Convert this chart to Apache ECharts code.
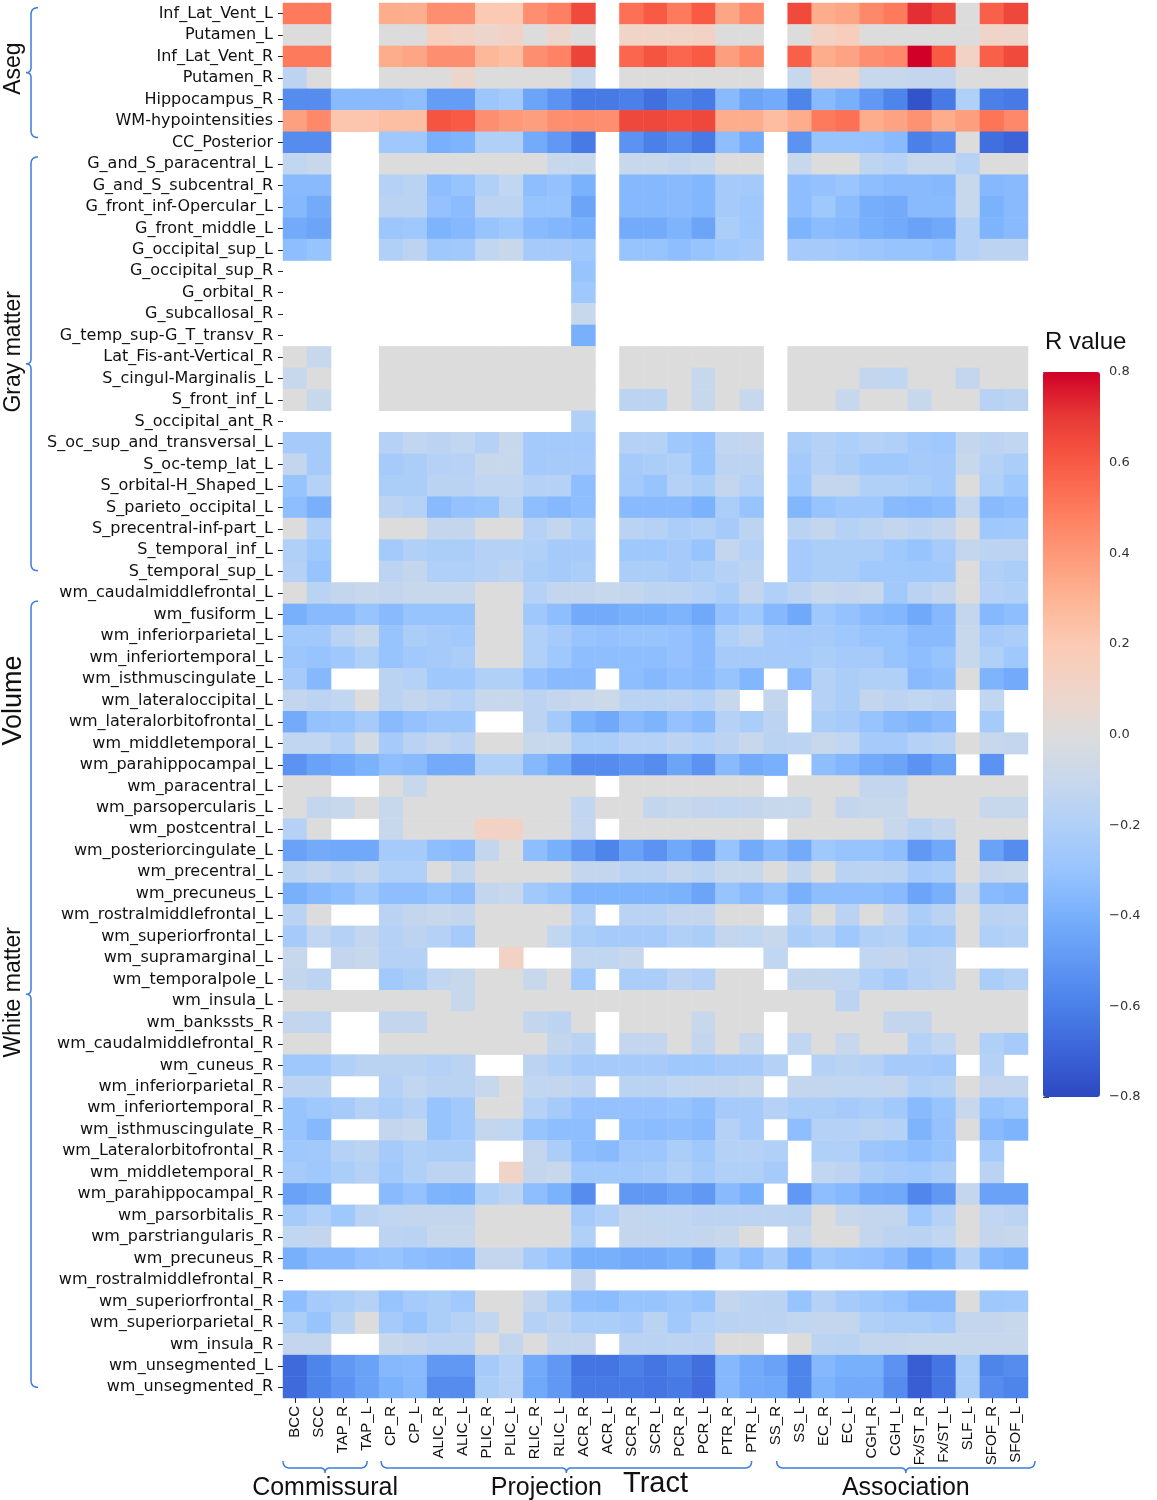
<!DOCTYPE html>
<html>
<head>
<meta charset="utf-8">
<script src="https://cdn.jsdelivr.net/npm/echarts@6/dist/echarts.min.js"></script>
<style>
  html, body { margin: 0; padding: 0; background: #fff; }
  #main { width: 1157px; height: 1500px; }
</style>
</head>
<body>
<div id="main"></div>
<script>
const _ = null;

// tracts (x axis)
const tractCols = ['BCC', 'SCC', 'TAP_R', 'TAP_L', 'CP_R', 'CP_L', 'ALIC_R', 'ALIC_L', 'PLIC_R', 'PLIC_L',
  'RLIC_R', 'RLIC_L', 'ACR_R', 'ACR_L', 'SCR_R', 'SCR_L', 'PCR_R', 'PCR_L', 'PTR_R', 'PTR_L',
  'SS_R', 'SS_L', 'EC_R', 'EC_L', 'CGH_R', 'CGH_L', 'Fx/ST_R', 'Fx/ST_L', 'SLF_L', 'SFOF_R', 'SFOF_L'];

// tract groups: [name, first col, last col]
const tractGroups = [['Commissural', 0, 3], ['Projection', 4, 19], ['Association', 20, 30]];

// region rows
const asegRows = ['Inf_Lat_Vent_L', 'Putamen_L', 'Inf_Lat_Vent_R', 'Putamen_R', 'Hippocampus_R',
  'WM-hypointensities', 'CC_Posterior'];
const grayRows = ['G_and_S_paracentral_L', 'G_and_S_subcentral_R', 'G_front_inf-Opercular_L', 'G_front_middle_L',
  'G_occipital_sup_L', 'G_occipital_sup_R', 'G_orbital_R', 'G_subcallosal_R', 'G_temp_sup-G_T_transv_R',
  'Lat_Fis-ant-Vertical_R', 'S_cingul-Marginalis_L', 'S_front_inf_L', 'S_occipital_ant_R',
  'S_oc_sup_and_transversal_L', 'S_oc-temp_lat_L', 'S_orbital-H_Shaped_L', 'S_parieto_occipital_L',
  'S_precentral-inf-part_L', 'S_temporal_inf_L', 'S_temporal_sup_L'];
const whiteRows = ['wm_caudalmiddlefrontal_L', 'wm_fusiform_L', 'wm_inferiorparietal_L', 'wm_inferiortemporal_L',
  'wm_isthmuscingulate_L', 'wm_lateraloccipital_L', 'wm_lateralorbitofrontal_L', 'wm_middletemporal_L',
  'wm_parahippocampal_L', 'wm_paracentral_L', 'wm_parsopercularis_L', 'wm_postcentral_L',
  'wm_posteriorcingulate_L', 'wm_precentral_L', 'wm_precuneus_L', 'wm_rostralmiddlefrontal_L',
  'wm_superiorfrontal_L', 'wm_supramarginal_L', 'wm_temporalpole_L', 'wm_insula_L', 'wm_bankssts_R',
  'wm_caudalmiddlefrontal_R', 'wm_cuneus_R', 'wm_inferiorparietal_R', 'wm_inferiortemporal_R',
  'wm_isthmuscingulate_R', 'wm_Lateralorbitofrontal_R', 'wm_middletemporal_R', 'wm_parahippocampal_R',
  'wm_parsorbitalis_R', 'wm_parstriangularis_R', 'wm_precuneus_R', 'wm_rostralmiddlefrontal_R',
  'wm_superiorfrontal_R', 'wm_superiorparietal_R', 'wm_insula_R', 'wm_unsegmented_L', 'wm_unsegmented_R'];

// R values x100, null = not significant (blank)
const asegValues = [
  [50,50,_,_,33,32,43,43,20,20,43,48,65,_,53,60,50,60,35,45,_,65,33,35,45,50,72,66,0,58,66],
  [0,0,_,_,0,0,15,12,8,12,0,8,0,_,10,10,10,12,0,0,_,0,12,16,0,0,0,0,0,10,8],
  [50,50,_,_,33,35,43,43,28,25,43,47,67,_,56,62,56,60,38,45,_,58,33,36,43,45,80,60,12,58,65],
  [-15,0,_,_,0,0,0,8,0,0,0,0,-10,_,0,0,0,0,0,0,_,-10,10,10,-10,-10,-12,-12,0,0,0],
  [-55,-55,-35,-35,-35,-33,-48,-48,-28,-25,-45,-52,-62,-62,-60,-66,-58,-62,-35,-45,-42,-58,-35,-40,-50,-58,-76,-62,-20,-60,-62],
  [37,45,22,22,25,25,62,60,43,40,38,43,44,43,66,66,64,66,33,33,26,33,50,53,33,36,42,33,38,52,45],
  [-55,-55,_,_,-27,-27,-40,-38,-20,-20,-42,-50,-62,_,-52,-60,-55,-62,-33,-42,_,-52,-30,-30,-31,-35,-60,-55,0,-66,-70]
];
const grayValues = [
  [-13,-10,_,_,0,0,0,0,0,0,0,-10,-10,_,-10,-10,-12,-10,0,0,_,-10,0,0,-14,-17,-10,-10,-17,0,0],
  [-35,-35,_,_,-18,-16,-33,-30,-20,-13,-33,-31,-39,_,-36,-36,-35,-37,-24,-25,_,-33,-31,-29,-33,-35,-35,-36,-10,-36,-35],
  [-36,-42,_,_,-16,-16,-31,-34,-15,-15,-30,-30,-45,_,-36,-36,-35,-37,-24,-27,_,-33,-27,-34,-41,-42,-35,-35,-10,-39,-35],
  [-42,-45,_,_,-28,-27,-38,-36,-30,-27,-35,-37,-40,_,-42,-42,-38,-45,-22,-27,_,-38,-34,-36,-40,-42,-46,-43,-18,-38,-35],
  [-33,-30,_,_,-20,-15,-27,-26,-13,-10,-24,-24,-27,_,-30,-30,-33,-30,-26,-24,_,-24,-24,-26,-28,-30,-30,-32,-18,-15,-15],
  [_,_,_,_,_,_,_,_,_,_,_,_,-30,_,_,_,_,_,_,_,_,_,_,_,_,_,_,_,_,_,_],
  [_,_,_,_,_,_,_,_,_,_,_,_,-27,_,_,_,_,_,_,_,_,_,_,_,_,_,_,_,_,_,_],
  [_,_,_,_,_,_,_,_,_,_,_,_,-10,_,_,_,_,_,_,_,_,_,_,_,_,_,_,_,_,_,_],
  [_,_,_,_,_,_,_,_,_,_,_,_,-40,_,_,_,_,_,_,_,_,_,_,_,_,_,_,_,_,_,_],
  [0,-10,_,_,0,0,0,0,0,0,0,0,0,_,0,0,0,0,0,0,_,0,0,0,0,0,0,0,0,0,0],
  [-10,0,_,_,0,0,0,0,0,0,0,0,0,_,0,0,0,-10,0,0,_,0,0,0,-12,-13,0,0,-12,0,0],
  [0,-10,_,_,0,0,0,0,0,0,0,0,0,_,-15,-15,0,-10,0,-10,_,0,0,-10,0,0,-10,0,0,-17,-15],
  [_,_,_,_,_,_,_,_,_,_,_,_,-20,_,_,_,_,_,_,_,_,_,_,_,_,_,_,_,_,_,_],
  [-24,-24,_,_,-18,-13,-15,-13,-18,-10,-25,-25,-25,_,-18,-18,-27,-30,-13,-12,_,-22,-18,-21,-18,-20,-25,-27,-12,-15,-13],
  [-12,-24,_,_,-24,-22,-18,-17,-10,-10,-25,-24,-24,_,-24,-22,-20,-30,-15,-15,_,-25,-18,-22,-27,-27,-24,-25,-10,-18,-22],
  [-30,-18,_,_,-22,-22,-16,-16,-13,-13,-18,-18,-33,_,-25,-30,-18,-22,-12,-18,_,-27,-12,-12,-20,-20,-22,-25,0,-20,-27],
  [-33,-40,_,_,-15,-18,-35,-31,-30,-16,-33,-36,-33,_,-35,-35,-35,-39,-22,-30,_,-37,-30,-27,-27,-35,-36,-34,-12,-35,-33],
  [0,-20,_,_,0,0,-12,-12,0,0,-18,-12,-20,_,-16,-18,-22,-20,-24,-15,_,-16,-12,-18,-15,-12,-15,-12,0,-27,-26],
  [-20,-27,_,_,-25,-20,-22,-22,-18,-18,-20,-24,-24,_,-27,-27,-24,-30,-12,-18,_,-24,-22,-22,-22,-27,-30,-24,-12,-15,-15],
  [-18,-30,_,_,-15,-12,-20,-20,-18,-15,-22,-24,-22,_,-22,-22,-24,-22,-18,-15,_,-24,-22,-22,-26,-26,-27,-26,0,-20,-22]
];
const whiteValues = [
  [0,-16,-12,-10,-12,-10,-10,-10,0,0,-18,-12,-12,-10,-12,-15,-15,-18,-22,-12,-20,-15,-10,-12,-10,-26,-16,-12,0,-18,-20],
  [-40,-35,-35,-30,-35,-30,-30,-30,0,0,-27,-33,-42,-42,-40,-40,-38,-43,-31,-27,-36,-43,-27,-31,-35,-37,-43,-36,-12,-36,-33],
  [-26,-26,-16,-10,-30,-22,-24,-26,0,0,-20,-24,-30,-31,-30,-30,-31,-35,-20,-15,-24,-25,-24,-27,-30,-30,-35,-35,-10,-24,-22],
  [-28,-30,-27,-20,-30,-26,-24,-22,0,0,-20,-27,-33,-33,-33,-33,-31,-35,-24,-24,-24,-24,-22,-24,-24,-30,-33,-30,-10,-20,-27],
  [-24,-36,_,_,-16,-18,-27,-27,-20,-20,-31,-35,-35,_,-33,-36,-33,-35,-30,-37,_,-35,-18,-22,-20,-20,-35,-33,0,-38,-42],
  [-12,-15,-13,0,-16,-12,-15,-18,-10,-10,-15,-12,-10,-8,-16,-16,-15,-18,-10,_,-12,_,-18,-22,-12,-15,-13,-15,_,-13,_],
  [-42,-31,-30,-24,-35,-31,-28,-28,_,_,-15,-25,-39,-43,-35,-38,-31,-35,-18,-22,-15,_,-22,-24,-30,-35,-38,-35,_,-24,_],
  [-13,-13,-18,-5,-24,-16,-12,-16,0,0,-10,-10,-22,-22,-18,-18,-15,-18,-15,-10,-16,-15,-10,-13,-24,-24,-18,-16,0,-10,-12],
  [-52,-46,-43,-39,-33,-35,-42,-42,-20,-20,-36,-43,-55,-55,-52,-55,-45,-52,-35,-42,-40,_,-33,-37,-42,-45,-52,-46,_,-52,_],
  [0,0,_,_,0,-10,0,0,0,0,0,0,0,_,0,0,0,0,0,0,_,0,0,0,-12,-12,0,0,0,0,0],
  [0,-12,-10,0,-10,0,0,0,0,0,0,0,-13,0,0,-12,-10,-12,-13,-12,-10,-10,0,-12,-10,-10,0,0,0,-10,-10],
  [-18,0,_,_,-10,0,0,0,12,12,0,0,-12,_,0,0,0,0,0,0,_,0,0,0,0,-10,-16,-12,0,0,0],
  [-46,-42,-43,-43,-24,-24,-33,-35,-12,0,-33,-40,-50,-58,-46,-52,-43,-50,-30,-42,-35,-42,-27,-30,-30,-33,-50,-43,0,-46,-55],
  [-16,-12,-16,-12,-20,-20,0,-12,0,0,0,0,-12,-12,-16,-16,-12,-15,-10,-10,0,-12,0,-16,-15,-16,-24,-22,0,-12,-10],
  [-40,-36,-33,-27,-33,-33,-30,-33,-12,-10,-26,-30,-38,-38,-38,-38,-39,-45,-30,-35,-30,-40,-33,-33,-33,-35,-45,-40,-12,-35,-37],
  [-16,0,_,_,-16,-12,-10,-12,0,0,0,0,-18,_,-16,-16,-12,-12,0,0,_,-16,0,-16,0,-12,-22,-16,0,-16,-15],
  [-24,-13,-18,-12,-18,-15,-18,-24,0,0,0,-13,-22,-24,-24,-24,-20,-22,-12,-13,-10,-22,-18,-27,-20,-18,-27,-26,0,-20,-18],
  [-10,_,-12,-10,-18,-18,_,_,_,12,_,_,-13,-13,-10,_,_,_,_,_,-13,_,_,_,-13,-12,-16,-15,_,_,_],
  [-12,-15,_,_,-26,-22,-13,-10,0,0,-10,0,-26,_,-22,-22,-15,-18,0,0,_,-12,-12,-13,-20,-24,-18,-15,0,-22,-18],
  [0,0,0,0,0,0,0,-10,0,0,0,0,0,0,0,0,0,0,0,0,0,0,0,-15,0,0,0,0,0,0,0],
  [-12,-13,_,_,-12,-12,0,0,0,0,-12,-15,0,_,0,0,0,-10,0,0,_,0,0,0,0,-12,-12,0,0,0,0],
  [0,0,_,_,0,0,0,0,0,0,0,-12,-16,_,-12,-12,0,-12,0,-10,_,-13,0,-10,0,0,-18,-13,0,-20,-24],
  [-27,-27,-20,-16,-16,-16,-18,-16,_,_,-15,-20,-24,-24,-24,-24,-27,-27,-24,-24,-18,_,-18,-16,-18,-24,-24,-26,_,-18,_],
  [-15,-15,_,_,-18,-13,-16,-16,-10,0,-13,-12,-15,_,-16,-16,-13,-12,-12,-10,_,-12,-12,-13,-13,-12,-20,-18,0,-12,-12],
  [-30,-27,-24,-18,-22,-18,-30,-26,0,0,-18,-24,-31,-31,-31,-31,-30,-33,-24,-24,-18,-22,-22,-24,-22,-26,-35,-30,-10,-30,-27],
  [-30,-36,_,_,-12,-10,-30,-26,-12,-13,-30,-33,-33,_,-33,-34,-33,-35,-18,-24,_,-33,-18,-18,-16,-18,-38,-31,0,-35,-38],
  [-27,-26,-18,-16,-24,-20,-22,-22,_,_,-12,-22,-33,-35,-28,-28,-22,-27,-18,-18,-20,_,-20,-20,-28,-30,-33,-30,_,-24,_],
  [-24,-27,-22,-18,-26,-20,-15,-15,_,10,-12,-10,-26,-26,-26,-24,-20,-24,-20,-20,-24,_,-13,-15,-22,-24,-26,-22,_,-16,_],
  [-46,-43,_,_,-35,-31,-38,-39,-20,-15,-33,-39,-55,_,-50,-50,-46,-50,-35,-40,_,-50,-33,-36,-42,-43,-57,-50,-12,-46,-46],
  [-24,-20,-27,-16,-13,-12,-12,-12,0,0,0,0,-24,-20,-12,-13,-13,-15,-15,-15,-15,-16,0,-10,-12,-12,-27,-18,0,-13,-15],
  [-13,-12,_,_,-15,-16,-10,-10,0,0,0,0,-20,_,-12,-12,-13,-12,-10,0,_,-10,0,0,-12,-15,-16,-13,0,-12,-10],
  [-40,-35,-35,-31,-30,-33,-35,-36,-12,-12,-24,-30,-40,-40,-42,-42,-40,-46,-27,-33,-24,-38,-27,-30,-31,-35,-43,-38,-18,-36,-38],
  [_,_,_,_,_,_,_,_,_,_,_,_,-12,_,_,_,_,_,_,_,_,_,_,_,_,_,_,_,_,_,_],
  [-33,-24,-22,-18,-30,-24,-22,-26,0,0,-12,-22,-33,-34,-30,-30,-27,-30,-12,-15,-16,-30,-18,-24,-27,-30,-35,-35,0,-27,-26],
  [-22,-30,-16,0,-24,-30,-22,-18,-13,0,-18,-15,-22,-22,-24,-16,-26,-18,-16,-15,-15,-13,-12,-12,-20,-22,-22,-24,-12,-12,-10],
  [-12,-12,_,_,-10,-12,-15,-15,0,-12,0,-12,-12,_,-16,-16,-15,-16,0,0,_,0,-15,-16,-12,-12,-10,-10,-10,-10,-10],
  [-68,-58,-50,-46,-36,-35,-50,-50,-24,-18,-42,-50,-64,-64,-60,-64,-60,-66,-36,-42,-46,-58,-36,-40,-40,-52,-72,-64,-22,-58,-55],
  [-68,-58,-52,-46,-39,-36,-55,-55,-22,-18,-43,-50,-62,-62,-62,-64,-62,-67,-36,-42,-43,-58,-38,-42,-42,-55,-72,-64,-22,-55,-58]
];

// colour bar ticks
const barTicks = [-0.8, -0.6, -0.4, -0.2, 0, 0.2, 0.4, 0.6, 0.8];

const rowLabels = asegRows.concat(grayRows, whiteRows);
const allValues = asegValues.concat(grayValues, whiteValues);

const cells = [];
allValues.forEach((row, r) => {
  row.forEach((v, c) => {
    if (v !== null) cells.push([c, r, v / 100]);
  });
});

// coolwarm-like palette, -0.8 .. 0.8 in 0.1 steps
const palette = ['#2c48c0', '#3c64d8', '#4a80e8', '#6098f4', '#78b0fc', '#98c4fe', '#b0d0f8', '#c8d8ec',
  '#dcdcdc', '#f0d4c8', '#fccab4', '#fdb494', '#fd9878', '#fe7a5c', '#f85a44', '#e83a36', '#d00028'];

const fmtTick = v => Math.abs(v) < 1e-9 ? '0.0' : (v < 0 ? '\u2212' : '') + Math.abs(v).toFixed(1);

const chart = echarts.init(document.getElementById('main'));

const option = {
  animation: false,
  backgroundColor: '#fff',
  title: {
    text: 'R value',
    left: 1040,
    top: 325,
    textStyle: { fontFamily: 'Liberation Sans', fontSize: 24, fontWeight: 'normal', color: '#111' }
  },
  grid: [
    { left: 283, top: 3, width: 745, height: 1395, outerBoundsMode: 'none' },
    { left: 1043, top: 372, width: 57, height: 725, outerBoundsMode: 'none' }
  ],
  xAxis: [
    {
      type: 'category',
      gridIndex: 0,
      data: tractCols,
      axisLine: { show: false },
      axisTick: { show: true, length: 5, alignWithLabel: true, lineStyle: { color: '#222' } },
      axisLabel: {
        interval: 0, rotate: 90, margin: 8,
        fontFamily: 'Liberation Sans', fontSize: 15, color: '#111'
      },
      splitLine: { show: false }
    },
    { type: 'value', gridIndex: 1, show: false, min: 0, max: 1 }
  ],
  yAxis: [
    {
      type: 'category',
      gridIndex: 0,
      data: rowLabels,
      inverse: true,
      axisLine: { show: false },
      axisTick: { show: true, length: 5, alignWithLabel: true, lineStyle: { color: '#222' } },
      axisLabel: {
        interval: 0, margin: 10,
        fontFamily: 'DejaVu Sans', fontSize: 16, color: '#111'
      },
      splitLine: { show: false }
    },
    {
      type: 'value',
      gridIndex: 1,
      position: 'right',
      min: -0.8,
      max: 0.8,
      interval: 0.2,
      axisLine: { show: false },
      axisTick: { show: true, length: 6, lineStyle: { color: '#444' } },
      axisLabel: {
        margin: 9, fontFamily: 'DejaVu Sans', fontSize: 13, color: '#333',
        formatter: v => barTicks.some(t => Math.abs(t - v) < 1e-6) ? fmtTick(v) : ''
      },
      splitLine: { show: false }
    }
  ],
  visualMap: {
    type: 'continuous',
    seriesIndex: 0,
    min: -0.8,
    max: 0.8,
    orient: 'vertical',
    left: 1043,
    top: 372,
    itemWidth: 57,
    itemHeight: 725,
    padding: 0,
    calculable: false,
    showLabel: false,
    text: null,
    inRange: { color: palette }
  },
  series: [{
    type: 'heatmap',
    xAxisIndex: 0,
    yAxisIndex: 0,
    data: cells,
    progressive: 0,
    itemStyle: { borderWidth: 0 },
    emphasis: { disabled: true }
  }]
};

chart.setOption(option);

// group brackets and labels, placed from the category positions
const colX = c => chart.convertToPixel({ xAxisIndex: 0 }, c);
const rowY = r => chart.convertToPixel({ yAxisIndex: 0 }, r);
const braceColor = '#3b7dd8';
const hk = 7, nb = 5;

// sample a quadratic curve into points
function quad(p0, c, p1) {
  const pts = [];
  for (let i = 1; i <= 8; i++) {
    const t = i / 8, u = 1 - t;
    pts.push([u * u * p0[0] + 2 * u * t * c[0] + t * t * p1[0], u * u * p0[1] + 2 * u * t * c[1] + t * t * p1[1]]);
  }
  return pts;
}
function vBrace(x, y1, y2, ym) {
  let pts = [[x + hk, y1]];
  pts = pts.concat(quad([x + hk, y1], [x, y1], [x, y1 + hk]));
  pts.push([x, ym - nb]);
  pts = pts.concat(quad([x, ym - nb], [x, ym], [x - nb, ym]));
  pts = pts.concat(quad([x - nb, ym], [x, ym], [x, ym + nb]));
  pts.push([x, y2 - hk]);
  pts = pts.concat(quad([x, y2 - hk], [x, y2], [x + hk, y2]));
  return pts;
}
function hBrace(y, x1, x2, xm) {
  let pts = [[x1, y - hk]];
  pts = pts.concat(quad([x1, y - hk], [x1, y], [x1 + hk, y]));
  pts.push([xm - nb, y]);
  pts = pts.concat(quad([xm - nb, y], [xm, y], [xm, y + nb]));
  pts = pts.concat(quad([xm, y + nb], [xm, y], [xm + nb, y]));
  pts.push([x2 - hk, y]);
  pts = pts.concat(quad([x2 - hk, y], [x2, y], [x2, y - hk]));
  return pts;
}
function brace(points) {
  return { type: 'polyline', shape: { points: points },
    style: { stroke: braceColor, lineWidth: 1.5, fill: null } };
}
function rotText(text, x, y, size) {
  return {
    type: 'text', x: x, y: y, rotation: Math.PI / 2,
    style: { text: text, x: 0, y: 0, align: 'center', verticalAlign: 'middle',
      fontFamily: 'Liberation Sans', fontSize: size, fill: '#111' }
  };
}
function flatText(text, x, y, size) {
  return {
    type: 'text', x: x, y: y,
    style: { text: text, x: 0, y: 0, align: 'center', verticalAlign: 'middle',
      fontFamily: 'Liberation Sans', fontSize: size, fill: '#111' }
  };
}

const graphics = [];
const bx = 31;
const nA = asegRows.length, nG = grayRows.length, nW = whiteRows.length;
const segs = [
  { y1: rowY(0) - 6, y2: rowY(nA - 1) - 5 },
  { y1: rowY(nA) - 7, y2: rowY(nA + nG - 1) - 1 },
  { y1: rowY(nA + nG) + 8, y2: rowY(nA + nG + nW - 1) }
];
segs.forEach(s => {
  s.ym = (s.y1 + s.y2) / 2;
  graphics.push(brace(vBrace(bx, s.y1, s.y2, s.ym)));
});
graphics.push(rotText('Aseg', 14, segs[0].ym - 4, 23));
graphics.push(rotText('Gray matter', 14, segs[1].ym - 12, 23));
graphics.push(rotText('Volume', 14, rowY(nA + nG + 5), 27));
graphics.push(rotText('White matter', 14, segs[2].ym - 2, 23));

const by = 1468;
const braceEnds = [[-12, 0], [-10, 0], [1, 19]];
tractGroups.forEach(([name, a, b], i) => {
  const x1 = colX(a) + braceEnds[i][0];
  const x2 = colX(b) + braceEnds[i][1];
  const xm = (x1 + x2) / 2;
  graphics.push(brace(hBrace(by, x1, x2, xm)));
  const tx = i === 1 ? xm - 20 : xm;
  graphics.push(flatText(name, tx, by + 20, 25));
});
graphics.push(flatText('Tract', (colX(14) + colX(16)) / 2, by + 16, 29));

chart.setOption({ graphic: graphics });
</script>
</body>
</html>
